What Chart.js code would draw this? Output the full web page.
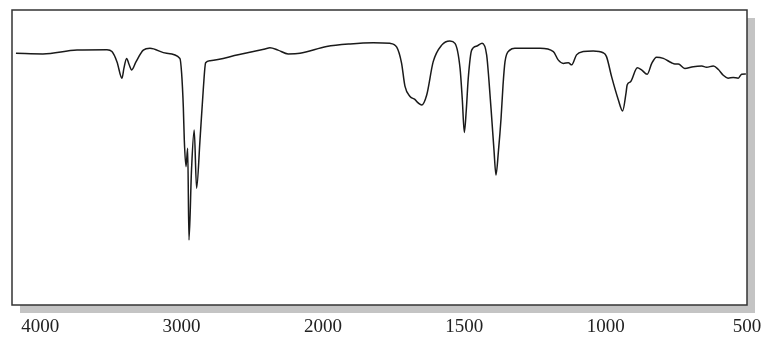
<!DOCTYPE html>
<html><head><meta charset="utf-8">
<script src="https://cdn.jsdelivr.net/npm/chart.js@4/dist/chart.umd.min.js"></script>
<style>html,body{margin:0;padding:0;background:#fff}#wrap{width:781px;height:344px}</style>
</head><body><div id="wrap"><canvas id="c" width="781" height="344"></canvas></div>
<script>
// Wavenumbers (cm-1), high to low
const wavenumbers = [4172,3981,3740,3528,3493,3457,3422,3408,3389,3373,3353,3323,3271,3224,3106,3012,3000,2988,2981,2969,2957,2948,2930,2911,2894,2870,2847,2830,2799,2600,2410,2375,2318,2246,2163,
1987,1904,1822,1763,1739,1722,1710,1692,1675,1663,1651,1633,1610,1580,1551,1533,1515,1507,1500,1493,1486,1474,1455,1437,1421,1413,1403,1395,1388,1379,1370,1363,1356,1339,1321,
1232,1185,1168,1150,1132,1120,1103,1079,1044,1009,997,979,955,940,928,924,912,888,873,853,837,820,796,767,755,743,720,690,660,643,619,602,584,567,549,531,519,504];
// Transmittance (%)
const transmittance = [85.3,85.1,86.4,86.5,85.9,82.4,76.9,80.3,83.6,81.7,79.7,82.4,86.4,87.0,85.3,83.6,78.6,67.2,55.9,46.9,53.1,22.0,45.8,59.3,39.6,55.9,72.9,82.1,82.8,84.8,86.8,87.2,86.4,85.1,85.3,
87.6,88.5,88.9,88.7,87.4,82.0,74.2,70.7,69.7,68.5,67.8,71.2,82.5,88.1,89.5,88.7,80.2,69.5,58.5,66.1,76.9,86.4,87.8,88.7,84.8,76.3,63.3,52.5,44.1,52.5,63.3,74.6,82.5,86.4,87.0,
87.0,85.9,83.1,81.9,82.1,81.4,84.8,85.9,86.1,85.5,84.2,77.4,69.5,65.8,71.8,74.6,75.7,80.4,79.7,78.2,81.9,84.0,83.6,82.1,81.7,81.7,80.2,80.8,81.0,80.6,81.0,79.9,77.9,76.9,77.1,76.9,78.2,78.3];
const tickValues = [4000,3000,2000,1500,1000,500];
const tickLabels = ['4000','3000','2000','1500','1000','500'];

// axis scale halves above 2000 cm-1
const toAxis = wn => wn <= 2000 ? wn : 2000 + (wn - 2000) / 2;
const points = wavenumbers.map((w, i) => ({x: toAxis(w), y: transmittance[i]}));

const framePlugin = {
  id: 'frame',
  beforeDraw(chart) {
    const {ctx, chartArea: a} = chart;
    ctx.save();
    ctx.fillStyle = '#c4c4c4';
    ctx.fillRect(a.left + 8, a.top + 8, a.right - a.left, a.bottom - a.top);
    ctx.fillStyle = '#fff';
    ctx.fillRect(a.left, a.top, a.right - a.left, a.bottom - a.top);
    ctx.restore();
  },
  afterDraw(chart) {
    const {ctx, chartArea: a} = chart;
    ctx.save();
    ctx.strokeStyle = '#333';
    ctx.lineWidth = 1.5;
    ctx.strokeRect(a.left, a.top, a.right - a.left, a.bottom - a.top);
    ctx.restore();
  }
};

new Chart(document.getElementById('c'), {
  type: 'line',
  data: { datasets: [{ data: points, borderColor: '#1a1a1a', borderWidth: 1.5, pointRadius: 0, cubicInterpolationMode: 'monotone', fill: false }] },
  options: {
    responsive: false, animation: false, events: [],
    layout: { padding: { left: 12, right: 34, top: 10, bottom: 5 } },
    plugins: { legend: { display: false }, tooltip: { enabled: false } },
    scales: {
      x: {
        type: 'linear', reverse: true, min: 500, max: 3100,
        grid: { display: false, drawTicks: false }, border: { display: false },
        afterBuildTicks(scale) { scale.ticks = tickValues.map(v => ({ value: toAxis(v) })); },
        afterFit(scale) { scale.height = 34; },
        ticks: { autoSkip: false, maxRotation: 0, padding: 11, color: '#222',
          font: { family: 'Liberation Serif', size: 19 },
          callback: (v, i) => tickLabels[i] }
      },
      y: { display: false, min: 0, max: 100 }
    }
  },
  plugins: [framePlugin]
});
</script></body></html>
